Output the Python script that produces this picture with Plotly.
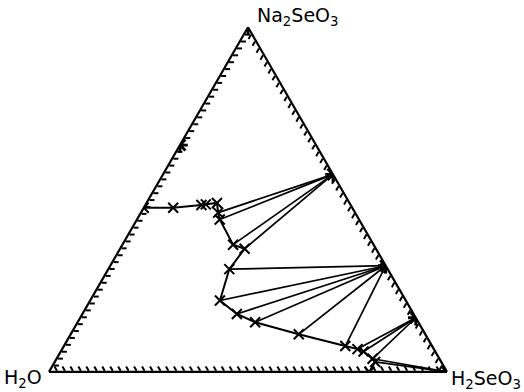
import plotly.graph_objects as go

# Na2SeO3 - H2SeO3 - H2O system, compositions in mass %
# Solubility curve (liquid phase), from the H2O-Na2SeO3 side to the H2O-H2SeO3 side
liq_na2seo3 = [47.6, 47.6, 48.4, 48.6, 49.0, 46.2, 44.2, 36.9, 35.7, 29.8, 20.7,
               16.8, 14.4, 10.9, 7.5, 6.6, 5.9, 3.8, 2.9, 0.0]
liq_h2seo3 = [0.0, 7.4, 14.1, 15.1, 17.7, 19.4, 20.8, 27.8, 31.3, 30.4, 32.6,
              38.8, 44.6, 57.3, 70.7, 74.2, 76.1, 79.4, 80.5, 80.5]

# Solid phases: Na2SeO3, Na2SeO3*5H2O, NaHSeO3, NaH3(SeO3)2, acid salt, H2SeO3
solid_na2seo3 = [100.0, 65.8, 57.3, 30.8, 15.7, 0.0]
solid_h2seo3 = [0.0, 0.0, 42.7, 69.2, 84.3, 100.0]

# Tie lines: solid phase index -> indices of liquid points
tie_lines = {
    2: [5, 6, 7, 8],
    3: [9, 10, 11, 12, 13, 14],
    4: [15, 16, 17],
    5: [17, 18],
}


def water(na, h):
    return [round(100.0 - x - y, 3) for x, y in zip(na, h)]


liq_h2o = water(liq_na2seo3, liq_h2seo3)
solid_h2o = water(solid_na2seo3, solid_h2seo3)

# Build tie-line segments separated by gaps
tie_a, tie_b, tie_c = [], [], []
for s, pts in tie_lines.items():
    for p in pts:
        tie_a += [solid_na2seo3[s], liq_na2seo3[p], None]
        tie_b += [solid_h2o[s], liq_h2o[p], None]
        tie_c += [solid_h2seo3[s], liq_h2seo3[p], None]

fig = go.Figure()

fig.add_trace(go.Scatterternary(
    a=tie_a, b=tie_b, c=tie_c, mode="lines", connectgaps=False,
    line=dict(color="black", width=1.7), hoverinfo="skip", showlegend=False))

fig.add_trace(go.Scatterternary(
    a=liq_na2seo3, b=liq_h2o, c=liq_h2seo3, mode="lines+markers",
    line=dict(color="black", width=2),
    marker=dict(symbol="x-thin", size=10, line=dict(color="black", width=2)),
    showlegend=False))

fig.add_trace(go.Scatterternary(
    a=solid_na2seo3, b=solid_h2o, c=solid_h2seo3, mode="markers",
    marker=dict(symbol="asterisk", size=13, line=dict(color="black", width=2.8)),
    showlegend=False))

axis_style = dict(
    min=0, linecolor="black", linewidth=2.2, showgrid=False,
    ticks="inside", ticklen=5, tickwidth=1.5, tickcolor="black",
    tickmode="linear", tick0=0, dtick=2, showticklabels=False, title=dict(text=""),
)

fig.update_layout(
    width=524, height=392,
    margin=dict(l=0, r=0, t=0, b=0),
    paper_bgcolor="white",
    ternary=dict(
        sum=100,
        bgcolor="white",
        domain=dict(x=[49 / 524, 447 / 524], y=[0.051, 0.931]),
        aaxis=axis_style, baxis=axis_style, caxis=axis_style,
    ),
    font=dict(family="DejaVu Sans", color="black"),
)

label_font = dict(family="DejaVu Sans", size=19, color="black")
fig.add_annotation(text="Na<sub>2</sub>SeO<sub>3</sub>", x=255 / 524, y=1 - 16 / 392,
                   xref="paper", yref="paper", xanchor="left", yanchor="middle",
                   showarrow=False, font=label_font)
fig.add_annotation(text="H<sub>2</sub>O", x=44 / 524, y=1 - 378 / 392,
                   xref="paper", yref="paper", xanchor="right", yanchor="middle",
                   showarrow=False, font=label_font)
fig.add_annotation(text="H<sub>2</sub>SeO<sub>3</sub>", x=449 / 524, y=1 - 379 / 392,
                   xref="paper", yref="paper", xanchor="left", yanchor="middle",
                   showarrow=False, font=label_font)

fig.write_html("out.html")
